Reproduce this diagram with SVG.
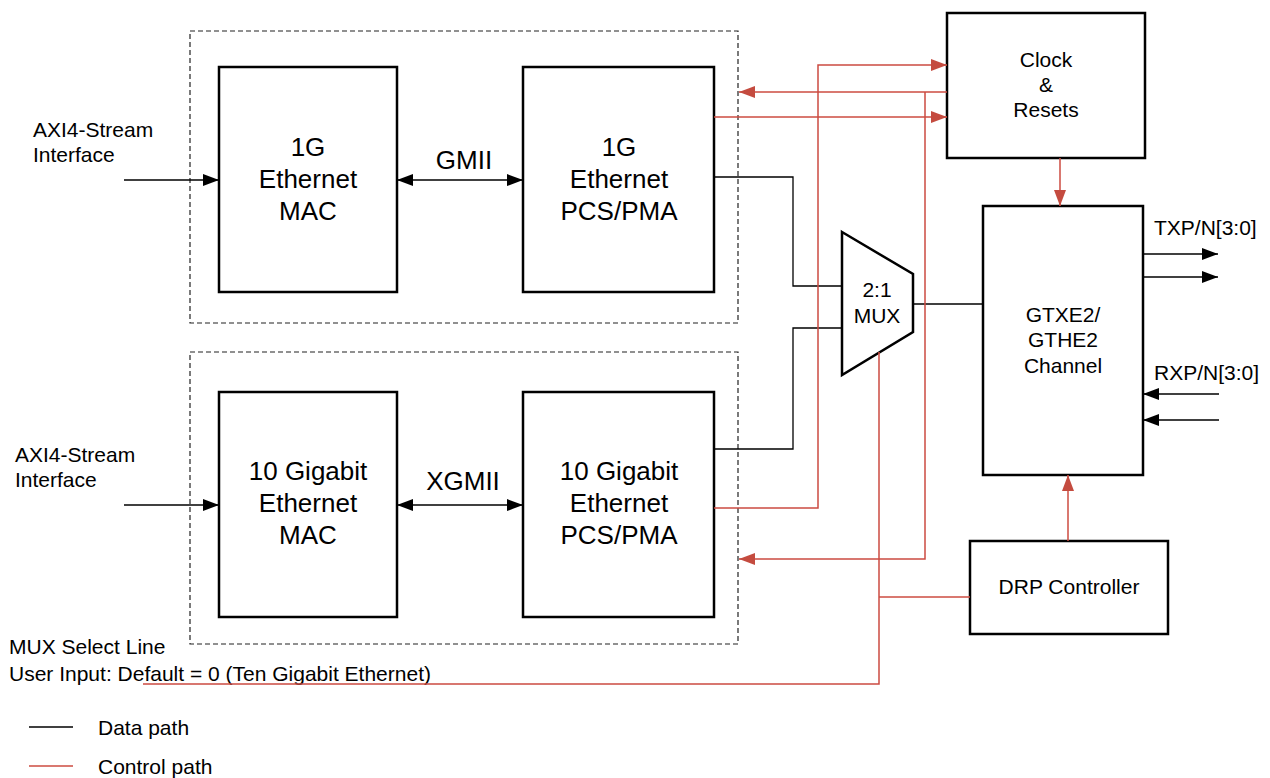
<svg xmlns="http://www.w3.org/2000/svg" width="1270" height="778" viewBox="0 0 1270 778">
<style>
.blk{fill:#fff;stroke:#000;stroke-width:2.5}
.dash{fill:none;stroke:#222;stroke-width:1.2;stroke-dasharray:5,3}
.d{fill:none;stroke:#000;stroke-width:1.3}
.c{fill:none;stroke:#cc4b41;stroke-width:1.5}
text{font-family:"Liberation Sans",Arial,sans-serif;fill:#000}
.t21{font-size:21px}
.t26{font-size:26px}
.m{text-anchor:middle}
</style>
<defs>
<marker id="ab" viewBox="0 0 16 12" refX="16" refY="6" markerWidth="16" markerHeight="12" markerUnits="userSpaceOnUse" orient="auto-start-reverse"><path d="M0,0L16,6L0,12z" fill="#000"/></marker>
<marker id="ar" viewBox="0 0 16 12" refX="16" refY="6" markerWidth="16" markerHeight="12" markerUnits="userSpaceOnUse" orient="auto-start-reverse"><path d="M0,0L16,6L0,12z" fill="#c44b3f"/></marker>
</defs>
<rect class="dash" x="190" y="31" width="548" height="292"/>
<rect class="dash" x="190" y="352" width="548" height="292"/>
<g id="mac1g"><rect class="blk" x="219" y="67" width="178" height="225"/><text class="t26 m" x="308" y="156">1G</text><text class="t26 m" x="308" y="188">Ethernet</text><text class="t26 m" x="308" y="220">MAC</text></g>
<g id="pcs1g"><rect class="blk" x="523" y="67" width="191" height="225"/><text class="t26 m" x="619" y="156">1G</text><text class="t26 m" x="619" y="188">Ethernet</text><text class="t26 m" x="619" y="220">PCS/PMA</text></g>
<g id="mac10g"><rect class="blk" x="219" y="392" width="178" height="225"/><text class="t26 m" x="308" y="480">10 Gigabit</text><text class="t26 m" x="308" y="512">Ethernet</text><text class="t26 m" x="308" y="544">MAC</text></g>
<g id="pcs10g"><rect class="blk" x="523" y="392" width="191" height="225"/><text class="t26 m" x="619" y="480">10 Gigabit</text><text class="t26 m" x="619" y="512">Ethernet</text><text class="t26 m" x="619" y="544">PCS/PMA</text></g>
<g id="clock"><rect class="blk" x="947" y="13" width="198" height="145"/><text class="t21 m" x="1046" y="67">Clock</text><text class="t21 m" x="1046" y="92">&amp;</text><text class="t21 m" x="1046" y="117">Resets</text></g>
<g id="gtx"><rect class="blk" x="983" y="206" width="160" height="269"/><text class="t21 m" x="1063" y="322">GTXE2/</text><text class="t21 m" x="1063" y="347">GTHE2</text><text class="t21 m" x="1063" y="373">Channel</text></g>
<g id="drp"><rect class="blk" x="970" y="541" width="198" height="93"/><text class="t21 m" x="1069" y="594">DRP Controller</text></g>
<g id="mux"><path class="blk" d="M842,232L913,274V332L842,375z"/><text class="t21 m" x="877" y="297">2:1</text><text class="t21 m" x="877" y="323">MUX</text></g>
<g id="labels">
<text class="t21" x="33" y="137">AXI4-Stream</text><text class="t21" x="33" y="162">Interface</text>
<text class="t21" x="15" y="462">AXI4-Stream</text><text class="t21" x="15" y="487">Interface</text>
<text class="t26 m" x="464" y="169">GMII</text>
<text class="t26 m" x="463" y="490">XGMII</text>
<text class="t21" x="1154" y="235">TXP/N[3:0]</text>
<text class="t21" x="1154" y="380">RXP/N[3:0]</text>
<text class="t21" x="9" y="654">MUX Select Line</text>
<text class="t21" x="9" y="681">User Input: Default = 0 (Ten Gigabit Ethernet)</text>
<text class="t21" x="98" y="735">Data path</text>
<text class="t21" x="98" y="774">Control path</text>
<line x1="29" y1="727" x2="73" y2="727" stroke="#000" stroke-width="1.3"/>
<line x1="29" y1="766" x2="73" y2="766" stroke="#cc4b41" stroke-width="1.5"/>
</g>
<g id="connectors">
<path class="d" d="M124,180H219" marker-end="url(#ab)"/>
<path class="d" d="M124,505H219" marker-end="url(#ab)"/>
<path class="d" d="M397,180H523" marker-start="url(#ab)" marker-end="url(#ab)"/>
<path class="d" d="M397,505H523" marker-start="url(#ab)" marker-end="url(#ab)"/>
<path class="d" d="M714,177H793V286H842"/>
<path class="d" d="M714,449H793V328H842"/>
<path class="d" d="M913,304H983"/>
<path class="d" d="M1143,254H1218" marker-end="url(#ab)"/>
<path class="d" d="M1143,277H1218" marker-end="url(#ab)"/>
<path class="d" d="M1219,394H1143" marker-end="url(#ab)"/>
<path class="d" d="M1219,420H1143" marker-end="url(#ab)"/>
<path class="c" d="M714,508H818V65H947" marker-end="url(#ar)"/>
<path class="c" d="M947,92H739" marker-end="url(#ar)"/>
<path class="c" d="M925,92V559H739" marker-end="url(#ar)"/>
<path class="c" d="M714,117H947" marker-end="url(#ar)"/>
<path class="c" d="M143,684H879V352"/>
<path class="c" d="M970,597H879"/>
<path class="c" d="M1060,158V206" marker-end="url(#ar)"/>
<path class="c" d="M1068,541V475" marker-end="url(#ar)"/>
</g>
</svg>
